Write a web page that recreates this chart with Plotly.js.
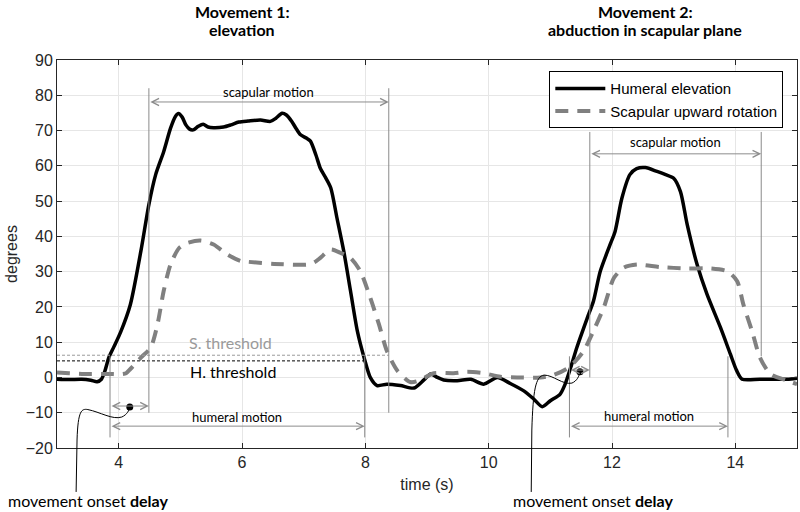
<!DOCTYPE html>
<html>
<head>
<meta charset="utf-8">
<script src="https://cdn.plot.ly/plotly-3.0.1.min.js"></script>
<style>html,body{margin:0;padding:0;background:#fff;}#chart{width:800px;height:512px;}</style>
</head>
<body>
<div id="chart"></div>
<script>
// ---- data ----
const timeHumeral = [3.00,3.20,3.40,3.55,3.65,3.72,3.78,3.84,3.92,4.03,4.19,4.36,4.49,4.60,4.73,4.84,4.92,4.97,5.03,5.09,5.15,5.21,5.29,5.37,5.45,5.54,5.70,5.82,5.95,6.10,6.30,6.46,6.55,6.65,6.72,6.81,6.88,6.95,7.05,7.11,7.20,7.27,7.36,7.44,7.54,7.65,7.76,7.87,7.98,8.08,8.19,8.35,8.57,8.79,8.95,9.06,9.17,9.27,9.49,9.71,9.92,10.14,10.35,10.57,10.73,10.87,11.00,11.16,11.24,11.33,11.43,11.60,11.70,11.81,11.97,12.05,12.16,12.29,12.40,12.54,12.73,12.87,13.00,13.11,13.22,13.38,13.54,13.76,13.92,14.02,14.11,14.40,14.84,15.00];
const humeralElevation = [-0.5,-0.6,-0.5,-0.8,-1.2,-0.5,2.0,5.6,8.6,12.8,20.7,35.8,49.0,57.5,64.0,70.6,74.0,74.8,73.8,71.6,70.4,70.2,71.2,71.8,71.0,70.8,71.0,71.6,72.4,72.7,73.0,72.6,73.5,74.9,74.4,72.5,70.5,68.8,67.8,67.0,63.0,59.3,56.5,53.7,45.2,35.8,24.5,13.2,5.6,0.0,-2.3,-1.9,-2.3,-3.0,-0.7,1.0,0.0,-0.7,-0.9,-0.5,-1.9,0.0,-1.7,-3.8,-6.1,-8.3,-6.6,-4.7,-1.9,2.8,8.5,16.9,21.7,30.1,37.7,41.4,50.8,57.5,59.2,59.5,58.4,57.5,56.5,52.7,43.3,32.0,23.6,14.1,6.6,2.0,-0.5,-0.5,-0.5,-0.2];

const timeScapular = [3.00,3.20,3.44,3.84,4.03,4.12,4.19,4.36,4.52,4.63,4.73,4.84,4.98,5.11,5.33,5.54,5.76,5.98,6.09,6.52,7.06,7.17,7.27,7.44,7.60,7.76,7.92,8.08,8.22,8.35,8.52,8.73,8.85,9.00,9.11,9.43,9.65,9.92,10.19,10.46,10.84,11.05,11.27,11.40,11.54,11.70,11.87,12.03,12.19,12.41,12.78,13.22,13.60,13.87,14.03,14.13,14.27,14.40,14.57,14.84,15.00];
const scapularRotation = [1.4,1.2,1.0,1.0,0.9,1.2,2.4,5.6,8.5,15.1,24.5,32.0,36.7,38.1,38.8,37.7,34.9,33.0,32.8,32.2,32.0,32.6,33.9,36.3,35.3,33.9,30.1,22.6,15.1,7.5,1.9,-1.3,-1.0,0.3,1.2,1.2,1.6,1.2,0.2,0.0,0.0,0.7,2.5,4.5,7.5,13.2,20.0,28.2,31.1,32.0,31.3,30.9,30.9,30.1,27.3,20.7,13.2,5.6,1.0,-0.9,-1.9];

const xTickValues = [4,6,8,10,12,14];
const xTickLabels = ['4','6','8','10','12','14'];
const yTickValues = [-20,-10,0,10,20,30,40,50,60,70,80,90];

const hThreshold = 4.7;
const sThreshold = 6.3;
const humeralOnset = [3.86, 11.31];
const humeralEnd = [7.99, 13.88];
const scapularOnset = [4.49, 11.64];
const scapularEnd = [8.38, 14.42];
const delayDotTime = [4.18, 11.48];
const delayDotValue = [-8.4, 1.6];
const movementTitles = [['Movement 1:', 'elevation'], ['Movement 2:', 'abduction in scapular plane']];

// ---- layout helpers ----
const Y0 = -20, Y1 = 90;
const PLOT_TOP = 59.5, PLOT_BOTTOM = 448;
const pixToPaper = py => (PLOT_BOTTOM - py) / (PLOT_BOTTOM - PLOT_TOP);

const gray = '#8c8c8c';
const calibri = 'Lato, Noto Sans, sans-serif';
const arial = 'Liberation Sans, Arial, Helvetica, sans-serif';

const traces = [
  {x: timeHumeral, y: humeralElevation, type: 'scatter', mode: 'lines', name: 'Humeral elevation',
   line: {color: '#000000', width: 3.5, shape: 'spline', smoothing: 0.7}},
  {x: timeScapular, y: scapularRotation, type: 'scatter', mode: 'lines', name: 'Scapular upward rotation',
   line: {color: '#808080', width: 4, dash: '13px,9px', shape: 'spline', smoothing: 0.7}},
  {x: delayDotTime, y: delayDotValue, type: 'scatter', mode: 'markers', showlegend: false, hoverinfo: 'skip',
   marker: {color: '#000000', size: 7}}
];

const shapes = [];
shapes.push({type: 'line', xref: 'x', yref: 'y', x0: 3, x1: scapularEnd[0], y0: sThreshold, y1: sThreshold,
  line: {color: '#9a9a9a', width: 1, dash: '3px,2px'}});
shapes.push({type: 'line', xref: 'x', yref: 'y', x0: 3, x1: humeralEnd[0], y0: hThreshold, y1: hThreshold,
  line: {color: '#000000', width: 1, dash: '3px,2px'}});
const hTop = [6, 6], hBottom = [-17, -17];
const sTop = [82, 69.6], sOnBottom = [-10, 0], sEndBottom = [-10, 6];
for (let m = 0; m < 2; m++) {
  const vl = (x, ya, yb) => shapes.push({type: 'line', xref: 'x', yref: 'y', x0: x, x1: x, y0: ya, y1: yb,
    line: {color: '#8a8a8a', width: 1}});
  vl(humeralOnset[m], hTop[m], hBottom[m]);
  vl(humeralEnd[m], hTop[m], hBottom[m]);
  vl(scapularOnset[m], sTop[m], sOnBottom[m]);
  vl(scapularEnd[m], sTop[m], sEndBottom[m]);
}
const P = pixToPaper;
shapes.push({type: 'path', xref: 'x', yref: 'paper', line: {color: '#000000', width: 1},
  path: `M3.31,${P(492)} L3.325,${P(440)} C3.34,${P(410)} 3.40,${P(408.5)} 3.50,${P(409.5)} C3.70,${P(412)} 3.90,${P(420)} 4.05,${P(417)} C4.14,${P(414.5)} 4.17,${P(410)} 4.18,${P(407.3)}`});
shapes.push({type: 'path', xref: 'x', yref: 'paper', line: {color: '#000000', width: 1},
  path: `M10.69,${P(492)} L10.70,${P(430)} C10.72,${P(390)} 10.76,${P(376)} 10.90,${P(375)} C11.05,${P(375)} 11.20,${P(385)} 11.35,${P(383)} C11.43,${P(381)} 11.47,${P(376)} 11.48,${P(371.7)}`});

const annotations = [];
function dblArrow(x0, x1, y) {
  annotations.push({x: x1, y: y, ax: x0, ay: y, xref: 'x', yref: 'y', axref: 'x', ayref: 'y',
    text: '', showarrow: true, arrowhead: 5, startarrowhead: 5, arrowside: 'end+start',
    arrowsize: 1.4, startarrowsize: 1.4, arrowwidth: 1, arrowcolor: gray, standoff: 0, startstandoff: 0});
}
function label(x, y, text, size, color) {
  annotations.push({x: x, y: y, xref: 'x', yref: 'y', text: text, showarrow: false,
    xanchor: 'center', yanchor: 'middle', font: {family: calibri, size: size, color: color || '#000'}});
}
const scapArrowY = [78.1, 63.4], humArrowY = [-13.8, -13.8], delayArrowY = [-8.1, 2.1];
const scapLabelY = [80.8, 66.7], humLabelY = [-11.1, -10.8];
for (let m = 0; m < 2; m++) {
  dblArrow(scapularOnset[m], scapularEnd[m], scapArrowY[m]);
  dblArrow(humeralOnset[m], humeralEnd[m], humArrowY[m]);
  dblArrow(humeralOnset[m], scapularOnset[m], delayArrowY[m]);
  label((scapularOnset[m] + scapularEnd[m]) / 2, scapLabelY[m], 'scapular motion', 13);
  label((humeralOnset[m] + humeralEnd[m]) / 2, humLabelY[m], 'humeral motion', 13);
}
label(5.82, 9.9, 'S. threshold', 16, '#9a9a9a');
label(5.85, 1.7, 'H. threshold', 16, '#000');
const titleX = [6.0, 12.54];
for (let m = 0; m < 2; m++) {
  annotations.push({x: titleX[m], y: P(10.5), xref: 'x', yref: 'paper', text: '<b>' + movementTitles[m][0] + '</b>',
    showarrow: false, xanchor: 'center', yanchor: 'middle', font: {family: calibri, size: 16, color: '#000'}});
  annotations.push({x: titleX[m], y: P(28.5), xref: 'x', yref: 'paper', text: '<b>' + movementTitles[m][1] + '</b>',
    showarrow: false, xanchor: 'center', yanchor: 'middle', font: {family: calibri, size: 16, color: '#000'}});
}
const delayTextX = [3.5, 11.69];
for (let m = 0; m < 2; m++) {
  annotations.push({x: delayTextX[m], y: P(501), xref: 'x', yref: 'paper', text: 'movement onset <b>delay</b>',
    showarrow: false, xanchor: 'center', yanchor: 'middle', font: {family: calibri, size: 16, color: '#000'}});
}

const axisCommon = {
  showline: true, linecolor: '#262626', linewidth: 1, mirror: 'ticks',
  ticks: 'inside', ticklen: 5, tickcolor: '#262626', tickwidth: 1,
  showgrid: true, gridcolor: '#e6e6e6', gridwidth: 1, zeroline: false,
  tickfont: {family: arial, size: 16, color: '#262626'}
};

const layout = {
  width: 800, height: 512,
  margin: {l: 56.5, r: 3, t: PLOT_TOP, b: 512 - PLOT_BOTTOM},
  paper_bgcolor: '#ffffff', plot_bgcolor: '#ffffff',
  xaxis: Object.assign({}, axisCommon, {range: [3, 15], tickvals: xTickValues, ticktext: xTickLabels,
    title: {text: 'time (s)', font: {family: arial, size: 16, color: '#262626'}, standoff: 8}}),
  yaxis: Object.assign({}, axisCommon, {range: [Y0, Y1], tickvals: yTickValues,
    title: {text: 'degrees', font: {family: arial, size: 16, color: '#262626'}, standoff: 4}}),
  legend: {x: 0.9815, y: 0.971, xanchor: 'right', yanchor: 'top', bgcolor: '#ffffff',
    bordercolor: '#000000', borderwidth: 1, itemwidth: 50, tracegroupgap: 0,
    font: {family: arial, size: 15, color: '#000'}},
  showlegend: true,
  shapes: shapes,
  annotations: annotations
};

Plotly.newPlot('chart', traces, layout, {staticPlot: true, displayModeBar: false});
</script>
</body>
</html>
